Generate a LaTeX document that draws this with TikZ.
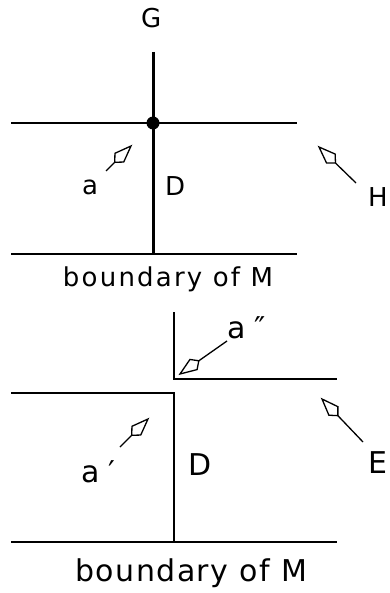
\documentclass[tikz,border=0pt]{standalone}
\usepackage{fontspec}
\setmainfont{DejaVu Sans}
\newfontfamily\lblfont[LetterSpace=5]{DejaVu Sans}
\newfontfamily\lblfontwide[LetterSpace=8.5]{DejaVu Sans}
\usetikzlibrary{calc}
\newcommand{\kitearrow}[2]{%
  \draw[stemline] (#1) -- ($(#2)!23pt!(#1)$);
  \draw[headline] (#2) -- ($(#2)!16.5pt!(#1)!6.2pt!90:(#1)$)
    -- ($(#2)!23pt!(#1)$) -- ($(#2)!16.5pt!(#1)!6.2pt!-90:(#1)$) -- cycle;}
\begin{document}
\begin{tikzpicture}[x=1pt,y=-1pt,
  thinline/.style={line width=1.5pt},
  thickline/.style={line width=3pt},
  stemline/.style={line width=1.3pt},
  headline/.style={line width=1.3pt, line join=miter, fill=white},
  lbl/.style={inner sep=0pt, anchor=base west, font=\fontsize{26}{26}\selectfont},
  biglbl/.style={inner sep=0pt, anchor=base west, font=\fontsize{30}{30}\selectfont},
  capt/.style={inner sep=0pt, anchor=base, font=\lblfontwide\fontsize{26}{26}\selectfont},
  bigcapt/.style={inner sep=0pt, anchor=base, font=\lblfont\fontsize{30}{30}\selectfont},
]
\useasboundingbox (0,0) rectangle (389,593);
% ---------- top diagram ----------
\coordinate (gtop) at (153,52);
\coordinate (gbot) at (153,254);
\coordinate (hl) at (11,123);
\coordinate (hr) at (297,123);
\coordinate (bl) at (11,254);
\coordinate (br) at (297,254);
\coordinate (dot) at (153,123);
\draw[thinline] (hl) -- (hr);
\draw[thinline] (bl) -- (br);
\draw[thickline] (gtop) -- (gbot);
\fill (dot) circle (6.5pt);
\coordinate (as) at (106,171);
\coordinate (at) at (131,146);
\kitearrow{as}{at}
\coordinate (hs) at (356,183);
\coordinate (ht) at (319,147);
\kitearrow{hs}{ht}
\node[lbl] (G) at (141,28) {G};
\node[lbl] (a) at (82,195) {a};
\node[lbl] (D1) at (165,196) {D};
\node[lbl] (H) at (368,207) {H};
\node[capt] (bd1) at (168,286) {boundary of M};
% ---------- bottom diagram ----------
\coordinate (ut) at (174,312);
\coordinate (uc) at (174,379);
\coordinate (ur) at (337,379);
\coordinate (ll) at (11,393);
\coordinate (lc) at (174,393);
\coordinate (lb) at (174,542);
\coordinate (bbl) at (11,542);
\coordinate (bbr) at (337,542);
\draw[thinline] (ut) -- (uc) -- (ur);
\draw[thinline] (ll) -- (lc) -- (lb);
\draw[thinline] (bbl) -- (bbr);
\coordinate (a2s) at (227,341);
\coordinate (a2t) at (180,374);
\kitearrow{a2s}{a2t}
\coordinate (a1s) at (120,447);
\coordinate (a1t) at (148,419);
\kitearrow{a1s}{a1t}
\coordinate (es) at (363,442);
\coordinate (et) at (322,399);
\kitearrow{es}{et}
\node[biglbl] (app) at (227,338) {a\hspace{9pt}″};
\node[biglbl] (ap) at (81,482) {a\hspace{9pt}′};
\node[biglbl] (D2) at (188,475) {D};
\node[biglbl] (E) at (368,473) {E};
\node[bigcapt] (bd2) at (191,581) {boundary of M};
\end{tikzpicture}
\end{document}
